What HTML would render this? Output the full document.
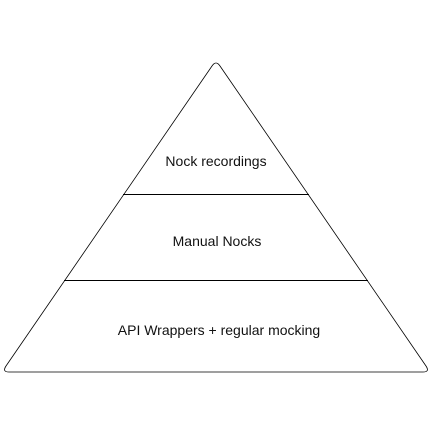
<!DOCTYPE html>
<html><head><style>html,body{margin:0;padding:0;background:#fff}</style></head>
<body>
<svg width="432" height="432" viewBox="0 0 432 432" xmlns="http://www.w3.org/2000/svg">
<rect width="432" height="432" fill="#fff"/>
<path d="M212,66 Q216,60 220,66 L426,366 Q430,372 423,372 L9,372 Q2,372 6,366 Z" fill="#fff" stroke="#000" stroke-width="0.8"/>
<line x1="123" y1="194.5" x2="309" y2="194.5" stroke="#000" stroke-width="1"/>
<line x1="64" y1="280.5" x2="368" y2="280.5" stroke="#000" stroke-width="1"/>
<g font-family="Liberation Sans, sans-serif" font-size="14" fill="#111" text-anchor="middle">
<text x="216" y="166">Nock recordings</text>
<text x="217" y="246">Manual Nocks</text>
<text x="219" y="335">API Wrappers + regular mocking</text>
</g>
</svg>
</body></html>
